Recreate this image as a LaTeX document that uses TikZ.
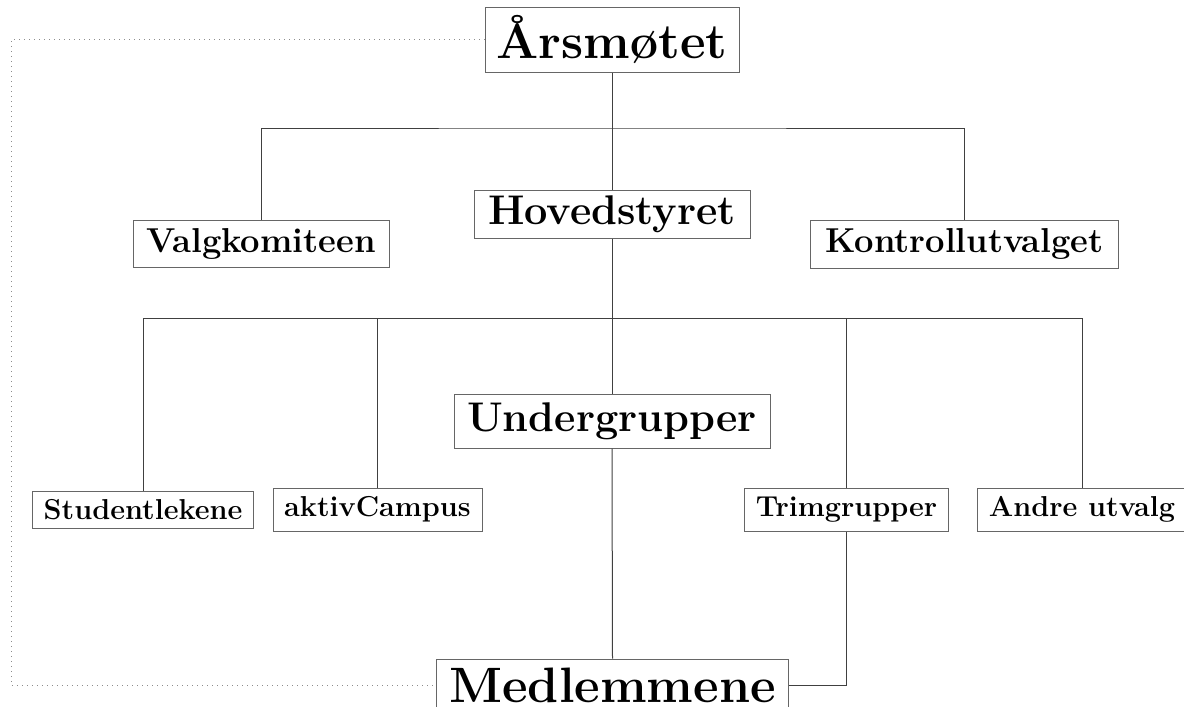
\documentclass[tikz,border=0pt]{standalone}
\begin{document}
\begin{tikzpicture}[x=0.5pt,y=-0.5pt,
  box/.style={draw=black!60,line width=0.5pt,inner sep=0pt,font=\bfseries,text=black},
  link/.style={draw=black!75,line width=0.5pt},
  dots/.style={draw=black!45,line width=0.5pt,dotted}]
\useasboundingbox (0,0) rectangle (1184,707);
\node[box,minimum width=127pt,minimum height=32.5pt,font=\Huge\bfseries] (A) at (612,39.5) {Årsmøtet};
\node[box,minimum width=138pt,minimum height=24pt,font=\huge\bfseries] (H) at (612,214) {Hovedstyret};
\node[box,minimum width=128pt,minimum height=23.5pt,font=\LARGE\bfseries] (V) at (261,243.5) {Valgkomiteen};
\node[box,minimum width=154pt,minimum height=24pt,font=\LARGE\bfseries] (K) at (964.5,244) {Kontrollutvalget};
\node[box,minimum width=158pt,minimum height=27pt,font=\huge\bfseries] (U) at (612,421) {Undergrupper};
\node[box,minimum width=110.5pt,minimum height=18.5pt,font=\Large\bfseries] (S) at (143,509.5) {Studentlekene};
\node[box,minimum width=104.5pt,minimum height=21.5pt,font=\Large\bfseries] (C) at (377.5,509.5) {aktivCampus};
\node[box,minimum width=102pt,minimum height=21.5pt,font=\Large\bfseries] (T) at (846.5,509.5) {Trimgrupper};
\node[box,minimum width=105pt,minimum height=21.5pt,font=\Large\bfseries] (AU) at (1082,509.5) {Andre utvalg};
\node[box,minimum width=176pt,minimum height=26pt,font=\Huge\bfseries] (M) at (612.5,685) {Medlemmene};
\coordinate (j1) at (612,128);
\coordinate (j2) at (612,318);
\coordinate (d1) at (11,39.5);
\coordinate (d2) at (11,685);
\draw[link] (A.south) -- (H.north);
\draw[link] (V.north) |- (j1) -| (K.north);
\draw[link] (H.south) -- (U.north);
\draw[link] (S.north) |- (j2) -| (AU.north);
\draw[link] (C.north) |- (j2);
\draw[link] (T.north) |- (j2);
\draw[link] (U.south) -- (M.north);
\draw[link] (T.south) |- (M.east);
\draw[dots] (A.west) -- (d1) -- (d2) -- (M.west);
\end{tikzpicture}
\end{document}
